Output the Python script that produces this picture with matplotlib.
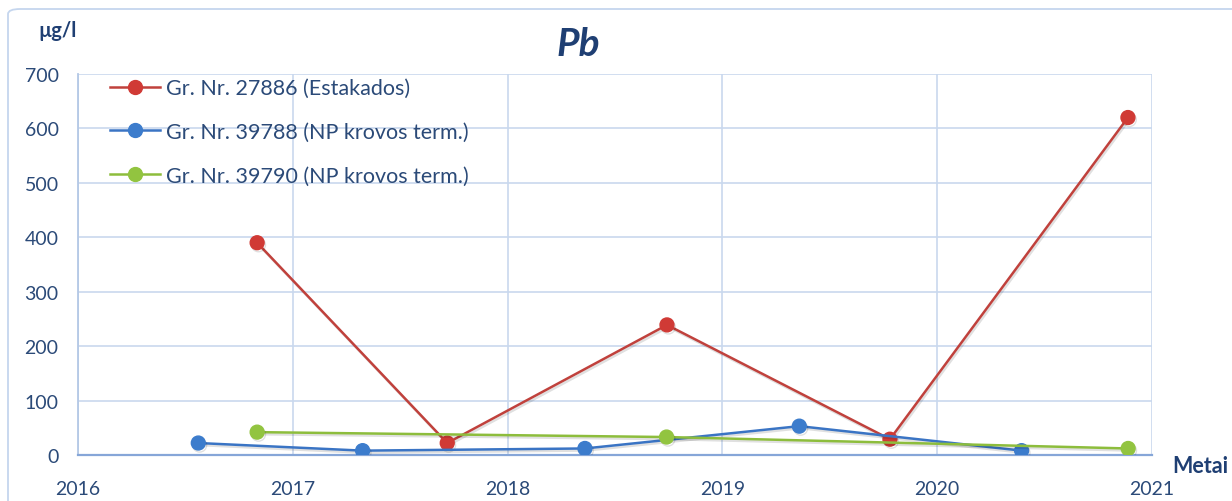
import numpy as np
import matplotlib
matplotlib.use('Agg')
import matplotlib.pyplot as plt
import matplotlib.patheffects as pe
from matplotlib.patches import FancyBboxPatch

# sampling dates as decimal years, Pb concentration in ug/l
red_x = [2016.834, 2017.719, 2018.742, 2019.780, 2020.888]
red_y = [390, 22, 239, 29, 620]

blue_x = [2016.560, 2017.325, 2018.360, 2019.358, 2020.393]
blue_y = [22, 8, 12, 53, 8]

green_x = [2016.834, 2018.740, 2020.889]
green_y = [42, 33, 12]

series_labels = ['Gr. Nr. 27886 (Estakados)',
                 'Gr. Nr. 39788 (NP krovos term.)',
                 'Gr. Nr. 39790 (NP krovos term.)']
years = [2016, 2017, 2018, 2019, 2020, 2021]
y_ticks = [0, 100, 200, 300, 400, 500, 600, 700]

plt.rcParams['font.family'] = ['Lato', 'DejaVu Sans']
text_col = '#2b4a78'
dark_col = '#1f3f73'
grid_col = '#c9d8ee'

fig = plt.figure(figsize=(12.32, 5.02), dpi=100)
fig.patch.set_facecolor('white')

# light rounded frame around the whole chart
border = FancyBboxPatch((8 / 1232, -0.1), 1.1, 1 - 10 / 502 + 0.1,
                        boxstyle='round,pad=0,rounding_size=0.01',
                        transform=fig.transFigure, facecolor='none',
                        edgecolor='#c5d6ee', linewidth=1.3)
fig.patches.append(border)

ax = fig.add_axes([78 / 1232, 46 / 502, 1074 / 1232, 381 / 502])

shadow = [pe.SimpleLineShadow(offset=(1, -1.5), alpha=0.12), pe.Normal()]
styles = [('#c0413c', '#d03a35', red_x, red_y),
          ('#3a74c4', '#3c7ccc', blue_x, blue_y),
          ('#8dbd3c', '#92c440', green_x, green_y)]
for (lc, mc, xs, ys), lab in zip(styles, series_labels):
    ax.plot(xs, ys, color=lc, linewidth=1.8, marker='o', markersize=10,
            markerfacecolor=mc, markeredgecolor=mc, label=lab,
            path_effects=shadow, zorder=3)

ax.set_xlim(2016, 2021)
ax.set_ylim(0, 700)
ax.set_xticks(years)
ax.set_xticklabels([str(y) for y in years])
ax.set_yticks(y_ticks)
ax.grid(True, color=grid_col, linewidth=1.2, zorder=0)
ax.set_axisbelow(True)
ax.tick_params(length=0, labelsize=14, labelcolor=text_col)
ax.tick_params(axis='x', pad=18)
ax.tick_params(axis='y', pad=14)
for s in ['top', 'right']:
    ax.spines[s].set_visible(False)
ax.spines['left'].set_color('#b4c8e6')
ax.spines['left'].set_linewidth(1.3)
ax.spines['bottom'].set_color('#86a6d8')
ax.spines['bottom'].set_linewidth(1.6)

leg = ax.legend(loc='upper left', bbox_to_anchor=(0.012, 1.04), frameon=False,
                fontsize=15.5, labelspacing=1.1, handlelength=2.3,
                handletextpad=0.3, labelcolor=text_col)
for h in leg.legend_handles:
    h.set_path_effects([])

fig.text(578 / 1232, 1 - 44 / 502, 'Pb', fontsize=28, fontweight='bold',
         fontstyle='italic', color=dark_col, ha='center', va='center')
fig.text(38 / 1232, 1 - 31 / 502, 'µg/l', fontsize=14.5, fontweight='bold',
         color=dark_col, ha='left', va='center')
fig.text(1172 / 1232, 1 - 467 / 502, 'Metai', fontsize=15.5, fontweight='bold',
         color=dark_col, ha='left', va='center')

fig.savefig('out.png', dpi=100)
